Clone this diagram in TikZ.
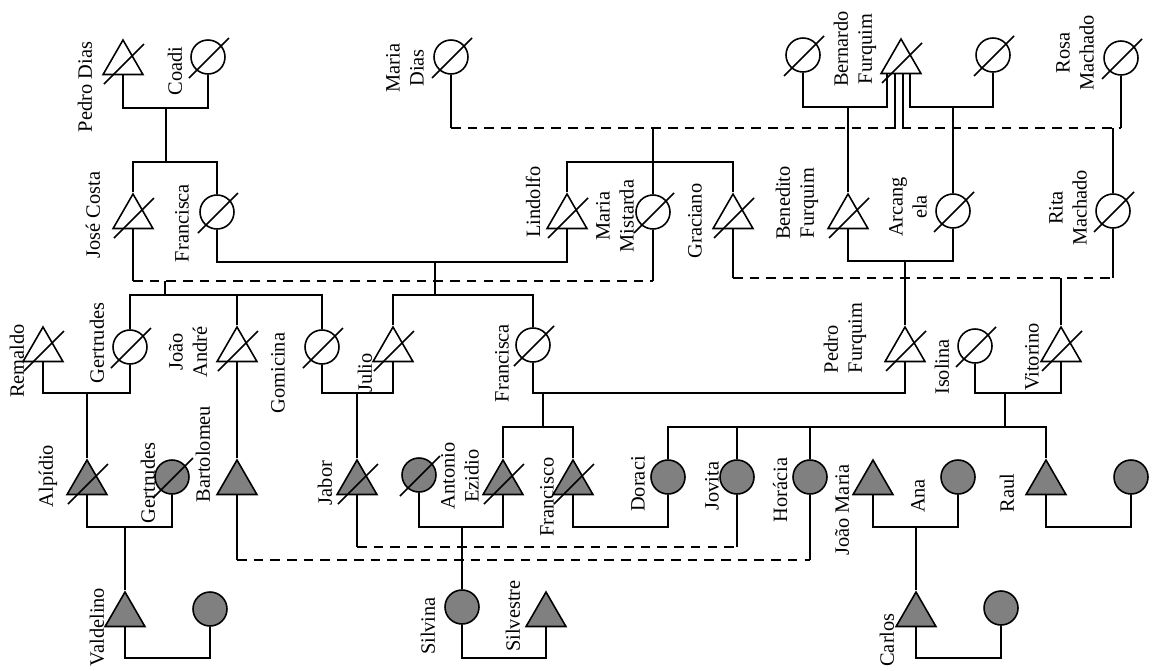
\documentclass[tikz,border=0pt]{standalone}
\usepackage{fontspec}
\setmainfont{Liberation Serif}
\usetikzlibrary{shapes.geometric}

\begin{document}
\begin{tikzpicture}[x=0.02cm, y=-0.02cm, line width=0.9pt,
    male/.style={regular polygon, regular polygon sides=3, draw, fill=white, minimum size=0.92cm, inner sep=0pt},
    female/.style={circle, draw, fill=white, minimum size=0.68cm, inner sep=0pt},
    shaded/.style={fill=black!50},
    lbl/.style={rotate=90, align=center, inner sep=0pt, font=\fontsize{11.6}{13.7}\selectfont},
    affine/.style={dash pattern=on 5.5pt off 4pt}]
    \useasboundingbox (0,0) rectangle (1155,670);

    % first generation
    \node[male] (pdias) at (123,63) {};
    \node[female] (coadi) at (208,57) {};
    \node[female] (mdias) at (451,57) {};
    \node[female] (bwifea) at (803,55) {};
    \node[male] (bernardo) at (901,62) {};
    \node[female] (bwifeb) at (993,55) {};
    \node[female] (rosa) at (1121,58) {};

    % second generation
    \node[male] (jose) at (133,217) {};
    \node[female] (fran) at (217,212) {};
    \node[male] (lindolfo) at (567,217) {};
    \node[female] (mistarda) at (653,212) {};
    \node[male] (graciano) at (733,217) {};
    \node[male] (benedito) at (848,217) {};
    \node[female] (arcangela) at (953,211) {};
    \node[female] (rita) at (1113,211) {};

    % third generation
    \node[male] (remaldo) at (43,350) {};
    \node[female] (gerta) at (130,347) {};
    \node[male] (jandre) at (237,350) {};
    \node[female] (gomicina) at (322,347) {};
    \node[male] (julio) at (393,350) {};
    \node[female] (francisca) at (533,345) {};
    \node[male] (pfurquim) at (905,350) {};
    \node[female] (isolina) at (975,346) {};
    \node[male] (vitorino) at (1061,350) {};

    % fourth generation
    \node[male,shaded] (alpidio) at (87,483) {};
    \node[female,shaded] (gertb) at (172,477) {};
    \node[male,shaded] (bartolomeu) at (237,483) {};
    \node[male,shaded] (jabor) at (357,483) {};
    \node[female,shaded] (antonio) at (419,475) {};
    \node[male,shaded] (ezidio) at (503,483) {};
    \node[male,shaded] (francisco) at (573,483) {};
    \node[female,shaded] (doraci) at (668,477) {};
    \node[female,shaded] (jovita) at (737,477) {};
    \node[female,shaded] (horacia) at (810,477) {};
    \node[male,shaded] (jmaria) at (873,483) {};
    \node[female,shaded] (ana) at (958,477) {};
    \node[male,shaded] (raul) at (1046,483) {};
    \node[female,shaded] (rwife) at (1131,477) {};

    % fifth generation
    \node[male,shaded] (valdelino) at (125,615) {};
    \node[female,shaded] (vwife) at (210,609) {};
    \node[female,shaded] (silvina) at (462,607) {};
    \node[male,shaded] (silvestre) at (546,615) {};
    \node[male,shaded] (carlos) at (916,615) {};
    \node[female,shaded] (cwife) at (1001,608) {};

    % deceased
    \foreach \p in {pdias,coadi,mdias,bwifea,bernardo,bwifeb,rosa,jose,fran,lindolfo,mistarda,graciano,benedito,arcangela,rita,remaldo,gerta,jandre,gomicina,julio,francisca,pfurquim,isolina,vitorino,alpidio,gertb,jabor,antonio,ezidio,francisco}
        \draw (\p.center) +(-19,21) -- +(21,-19);

    % names
    \node[lbl] (lpdias) at (85,87) {Pedro Dias};
    \node[lbl] (lcoadi) at (175,71) {Coadi};
    \node[lbl] (lmdias) at (405,68) {Maria\\Dias};
    \node[lbl] (lbernardo) at (855,49) {Bernardo\\Furquim};
    \node[lbl] (lrosa) at (1075,53) {Rosa\\Machado};
    \node[lbl] (ljose) at (93,215) {José Costa};
    \node[lbl] (lfran) at (182,223) {Francisca};
    \node[lbl] (llindolfo) at (533,202) {Lindolfo};
    \node[lbl] (lmistarda) at (615,216) {Maria\\Mistarda};
    \node[lbl] (lgraciano) at (695,221) {Graciano};
    \node[lbl] (lbenedito) at (797,203) {Benedito\\Furquim};
    \node[lbl] (larcangela) at (908,207) {Arcang\\ela};
    \node[lbl] (lrita) at (1068,208) {Rita\\Machado};
    \node[lbl] (lremaldo) at (17,361) {Remaldo};
    \node[lbl] (lgerta) at (97,343) {Gertrudes};
    \node[lbl] (ljandre) at (188,352) {João\\André};
    \node[lbl] (lgomicina) at (278,373) {Gomicina};
    \node[lbl] (ljulio) at (365,373) {Julio};
    \node[lbl] (lfrancisca) at (502,363) {Francisca};
    \node[lbl, align=left] (lpfurquim) at (845,338) {Pedro\\Furquim};
    \node[lbl] (lisolina) at (942,367) {Isolina};
    \node[lbl] (lvitorino) at (1032,357) {Vitorino};
    \node[lbl] (lalpidio) at (48,476) {Alpídio};
    \node[lbl] (lgertb) at (148,483) {Gertrudes};
    \node[lbl] (lbartolomeu) at (203,454) {Bartolomeu};
    \node[lbl] (ljabor) at (325,483) {Jabor};
    \node[lbl] (lezidio) at (460,476) {Antonio\\Ezidio};
    \node[lbl] (lfrancisco) at (547,497) {Francisco};
    \node[lbl] (ldoraci) at (638,484) {Doraci};
    \node[lbl] (ljovita) at (712,486) {Jovita};
    \node[lbl] (lhoracia) at (780,490) {Horácia};
    \node[lbl] (ljmaria) at (842,510) {João Maria};
    \node[lbl] (lana) at (918,496) {Ana};
    \node[lbl] (lraul) at (1007,493) {Raul};
    \node[lbl] (lvaldelino) at (97,627) {Valdelino};
    \node[lbl] (lsilvina) at (428,626) {Silvina};
    \node[lbl] (lsilvestre) at (513,616) {Silvestre};
    \node[lbl] (lcarlos) at (887,640) {Carlos};

    % first generation unions
    \coordinate (u1) at (166,108);
    \coordinate (b1) at (166,162);
    \draw (pdias.south) |- (u1) -| (coadi.south);
    \draw (u1) -- (b1);
    \draw (jose.north) |- (b1) -| (fran.north);

    \coordinate (u2) at (848,107);
    \draw ([xshift=-0.28cm]bernardo.south) |- (u2) -| (bwifea.south);
    \draw (u2) -- (benedito.north);
    \coordinate (u3) at (953,107);
    \draw ([xshift=0.18cm]bernardo.south) |- (u3) -| (bwifeb.south);
    \draw (u3) -- (arcangela.north);

    \coordinate (d4a) at (451,128);
    \coordinate (d4b) at (1121,128);
    \draw (mdias.south) -- (d4a);
    \draw (rosa.south) -- (d4b);
    \draw[affine] (d4a) -- (d4b);
    \draw ([xshift=-0.12cm]bernardo.south) -- ++(0,54.5);
    \draw ([xshift=0.04cm]bernardo.south) -- ++(0,54.5);
    \coordinate (u4) at (653,128);
    \coordinate (b4) at (653,162);
    \draw (u4) -- (mistarda.north);
    \draw (lindolfo.north) |- (b4) -| (graciano.north);
    \coordinate (u5) at (1113,128);
    \draw (u5) -- (rita.north);

    % second generation unions
    \coordinate (u6) at (435,262);
    \coordinate (b6) at (435,295);
    \draw (fran.south) |- (u6) -| (lindolfo.south);
    \draw (u6) -- (b6);
    \draw (julio.north) |- (b6) -| (francisca.north);

    \coordinate (u7) at (165,281);
    \coordinate (b7) at (165,295);
    \draw (jose.south) -- (jose.south |- u7);
    \draw[affine] (jose.south |- u7) -- (mistarda.south |- u7);
    \draw (mistarda.south) -- (mistarda.south |- u7);
    \draw (u7) -- (b7);
    \draw (gerta.north) |- (b7) -| (gomicina.north);
    \draw (jandre.north) -- (jandre.north |- b7);

    \coordinate (u8) at (1061,278);
    \draw (graciano.south) -- (graciano.south |- u8);
    \draw[affine] (graciano.south |- u8) -- (rita.south |- u8);
    \draw (rita.south) -- (rita.south |- u8);
    \draw (u8) -- (vitorino.north);

    \coordinate (u9) at (905,261);
    \draw (benedito.south) |- (u9) -| (arcangela.south);
    \draw (u9) -- (pfurquim.north);

    % third generation unions
    \coordinate (u10) at (87,393);
    \draw (remaldo.south) |- (u10) -| (gerta.south);
    \draw (u10) -- (alpidio.north);

    \draw (jandre.south) -- (bartolomeu.north);

    \coordinate (u11) at (357,393);
    \draw (gomicina.south) |- (u11) -| (julio.south);
    \draw (u11) -- (jabor.north);

    \coordinate (u12) at (543,393);
    \coordinate (b12) at (543,427);
    \draw (francisca.south) |- (u12) -| (pfurquim.south);
    \draw (u12) -- (b12);
    \draw (ezidio.north) |- (b12) -| (francisco.north);

    \coordinate (u13) at (1005,393);
    \coordinate (b13) at (1005,427);
    \draw (isolina.south) |- (u13) -| (vitorino.south);
    \draw (u13) -- (b13);
    \draw (doraci.north) |- (b13) -| (raul.north);
    \draw (jovita.north) -- (jovita.north |- b13);
    \draw (horacia.north) -- (horacia.north |- b13);

    % fourth generation unions
    \coordinate (u14) at (125,527);
    \draw (alpidio.south) |- (u14) -| (gertb.south);
    \draw (u14) -- (valdelino.north);

    \coordinate (d15) at (500,560);
    \draw (bartolomeu.south) -- (bartolomeu.south |- d15);
    \draw[affine] (bartolomeu.south |- d15) -- (horacia.south |- d15);
    \draw (horacia.south) -- (horacia.south |- d15);

    \coordinate (d16) at (500,547);
    \draw (jabor.south) -- (jabor.south |- d16);
    \draw[affine] (jabor.south |- d16) -- (jovita.south |- d16);
    \draw (jovita.south) -- (jovita.south |- d16);

    \coordinate (u17) at (462,527);
    \draw (antonio.south) |- (u17) -| (ezidio.south);
    \draw (u17) -- (silvina.north);

    \coordinate (u18) at (620,527);
    \draw (francisco.south) |- (u18) -| (doraci.south);

    \coordinate (u19) at (916,527);
    \draw (jmaria.south) |- (u19) -| (ana.south);
    \draw (u19) -- (carlos.north);

    \coordinate (u20) at (1088,527);
    \draw (raul.south) |- (u20) -| (rwife.south);

    % fifth generation unions
    \coordinate (u21) at (167,658);
    \draw (valdelino.south) |- (u21) -| (vwife.south);
    \coordinate (u22) at (504,658);
    \draw (silvina.south) |- (u22) -| (silvestre.south);
    \coordinate (u23) at (958,658);
    \draw (carlos.south) |- (u23) -| (cwife.south);
\end{tikzpicture}
\end{document}
